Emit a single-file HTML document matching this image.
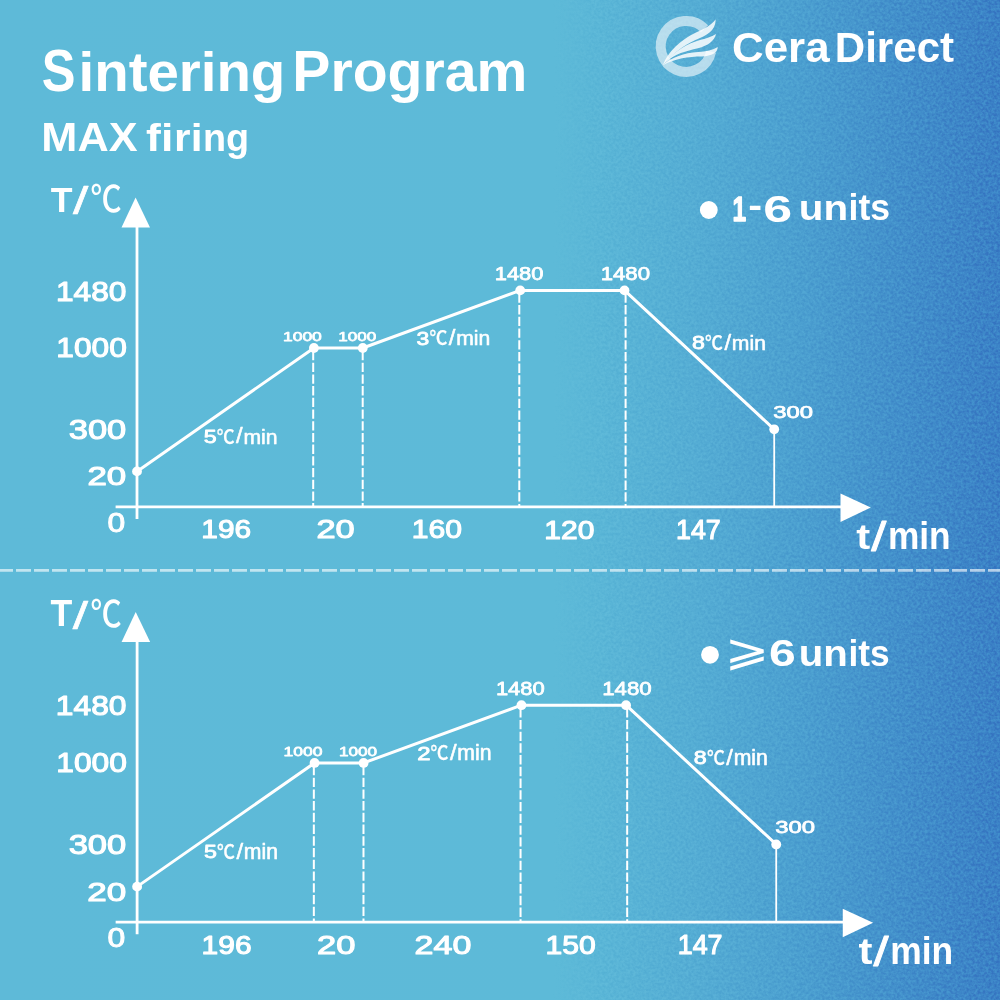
<!DOCTYPE html>
<html lang="en">
<head>
<meta charset="utf-8">
<title>Sintering Program - MAX firing</title>
<style>
html,body{margin:0;padding:0;width:1000px;height:1000px;overflow:hidden;background:#5ebad8}
svg{display:block}
text{fill:#fff;white-space:pre;font-family:"Liberation Sans","DejaVu Sans",sans-serif;font-weight:bold}
.n{font-weight:normal}
.c{font-family:"Liberation Sans","Noto Sans CJK SC",sans-serif;font-weight:500}
.k{stroke:#fff;stroke-linejoin:round}
</style>
</head>
<body>
<svg width="1000" height="1000" viewBox="0 0 1000 1000">
<defs>
<linearGradient id="bg" x1="0" y1="0" x2="1" y2="0">
<stop offset="0" stop-color="#5ebad8"/>
<stop offset="0.555" stop-color="#5dbad8"/>
<stop offset="0.60" stop-color="#5ab6d7"/>
<stop offset="0.70" stop-color="#54acd4"/>
<stop offset="0.80" stop-color="#4b9fd0"/>
<stop offset="0.90" stop-color="#428fcb"/>
<stop offset="1" stop-color="#3a80c6"/>
</linearGradient>
<linearGradient id="nm" x1="0" y1="0" x2="1" y2="0">
<stop offset="0.55" stop-color="#000"/>
<stop offset="0.6" stop-color="#888"/>
<stop offset="1" stop-color="#fff"/>
</linearGradient>
<mask id="nmask"><rect width="1000" height="1000" fill="url(#nm)"/></mask>
<filter id="noise" x="0" y="0" width="100%" height="100%" color-interpolation-filters="sRGB">
<feTurbulence type="fractalNoise" baseFrequency="0.36" numOctaves="2" seed="7"/>
<feColorMatrix type="matrix" values="2.2 0 0 0 -0.6  2.2 0 0 0 -0.6  2.2 0 0 0 -0.6  0 0 0 0 1"/>
</filter>
</defs>
<rect width="1000" height="1000" fill="url(#bg)"/>
<rect x="480" width="520" height="1000" filter="url(#noise)" mask="url(#nmask)" opacity="0.11" style="mix-blend-mode:overlay"/>
<line x1="-2" y1="570.4" x2="1000" y2="570.4" stroke="#fff" stroke-opacity="0.62" stroke-width="2.8" stroke-dasharray="15 3"/>
<!-- logo -->
<g>
<path d="M711.14,51.7 A25.5,25.5 0 1 1 704.54,28.69" fill="none" stroke="#fff" stroke-opacity="0.58" stroke-width="10"/>
<g fill="#fff" fill-opacity="0.84">
<path d="M662.8,65.2 C668,52 680,40 696,32.5 C705,28.5 712,24.5 715.6,19.2 C716,27 711,33.5 700,38 C688,43 676,50 662.8,65.2 Z"/>
<path d="M666,62 C674,51 688,43.5 700,40 C707,38.2 712,36.5 716,34 C714.5,41 708,45.5 698,48.3 C686,51 675,54 666,62 Z"/>
<path d="M662.8,65.2 C672,57 684,53 698,52 C706,51.5 713,50 717.8,47 C717.5,53 712,56 702,56.4 C688,56.5 676,58 662.8,65.2 Z"/>
</g>
</g>
<circle cx="708.8" cy="210" r="8.9" fill="#fff"/>
<circle cx="710" cy="654.8" r="8.9" fill="#fff"/>
<text><tspan x="41.84" y="90.71" font-size="58.87" textLength="33.74" lengthAdjust="spacingAndGlyphs">S</tspan><tspan x="78.53" y="90.6" font-size="55.45" textLength="206.78" lengthAdjust="spacingAndGlyphs">intering</tspan> <tspan x="292.28" y="90.5" font-size="57.84" textLength="235.1" lengthAdjust="spacingAndGlyphs">Program</tspan></text>
<text><tspan x="41.39" y="150.6" font-size="40.0" textLength="96.22" lengthAdjust="spacingAndGlyphs">MAX</tspan> <tspan x="146.13" y="150.6" font-size="39.45" textLength="27.19" lengthAdjust="spacingAndGlyphs">fi</tspan><tspan x="174.14" y="150.6" font-size="38.62" textLength="28.34" lengthAdjust="spacingAndGlyphs">ri</tspan><tspan x="203.05" y="150.6" font-size="39.63" textLength="46.14" lengthAdjust="spacingAndGlyphs">ng</tspan></text>
<text><tspan x="732.04" y="62" font-size="43.14" textLength="97.57" lengthAdjust="spacingAndGlyphs">Cera</tspan><tspan x="834.76" y="62" font-size="41.66" textLength="119.37" lengthAdjust="spacingAndGlyphs">Direct</tspan></text>
<text><tspan class="k" x="732.53" y="221.1" font-size="35.65" textLength="13.61" lengthAdjust="spacingAndGlyphs" stroke-width="1.4">1</tspan><tspan x="748.15" y="217.13" font-size="34.17" textLength="13.83" lengthAdjust="spacingAndGlyphs">-</tspan><tspan x="763.38" y="221.83" font-size="37.46" textLength="28.9" lengthAdjust="spacingAndGlyphs">6</tspan> <tspan x="798.78" y="220.4" font-size="35.93" textLength="49.27" lengthAdjust="spacingAndGlyphs">un</tspan><tspan x="848.59" y="220.4" font-size="37.52" textLength="41.5" lengthAdjust="spacingAndGlyphs">its</tspan></text>
<text><tspan class="n" x="724.8" y="664.91" font-size="43.94" textLength="44.69" lengthAdjust="spacingAndGlyphs">⩾</tspan><tspan x="769.02" y="666.43" font-size="37.18" textLength="26.72" lengthAdjust="spacingAndGlyphs">6</tspan> <tspan x="798.79" y="665.6" font-size="36.3" textLength="49.05" lengthAdjust="spacingAndGlyphs">un</tspan><tspan x="848.41" y="665.6" font-size="37.79" textLength="41.17" lengthAdjust="spacingAndGlyphs">its</tspan></text>
<g transform="matrix(1 0 0 1 0 0)">
<g stroke="#fff" stroke-width="2.8" fill="none">
<line x1="137" y1="225" x2="137" y2="518.9"/>
<line x1="115.6" y1="506.9" x2="842" y2="506.9"/>
</g>
<polygon points="135.6,197.5 121.5,227.5 150,227.5" fill="#fff"/>
<polygon points="870.8,507.5 840.5,493.5 840.5,522" fill="#fff"/>
<g stroke="#fff" stroke-width="2" stroke-dasharray="9.3 2.4" fill="none">
<line x1="313.2" y1="351" x2="313.2" y2="506"/>
<line x1="362.7" y1="351" x2="362.7" y2="506"/>
<line x1="519.3" y1="293.4" x2="519.3" y2="506"/>
<line x1="625.6" y1="293.4" x2="625.6" y2="506"/>
</g>
<line x1="774.2" y1="429.3" x2="774.2" y2="506" stroke="#fff" stroke-width="1.8"/>
<path d="M137,471.4 L313.9,348 L362.8,348 L520.2,290.4 L624.5,290.4 L774.2,429.3" stroke="#fff" stroke-width="3" fill="none" stroke-linejoin="round"/>
<circle cx="137" cy="471.4" r="4.9" fill="#fff"/>
<circle cx="313.9" cy="348" r="4.9" fill="#fff"/>
<circle cx="362.8" cy="348" r="4.9" fill="#fff"/>
<circle cx="520.2" cy="290.4" r="4.9" fill="#fff"/>
<circle cx="624.5" cy="290.4" r="4.9" fill="#fff"/>
<circle cx="774.2" cy="429.3" r="4.9" fill="#fff"/>
<text><tspan x="50.64" y="211.8" font-size="35.97" textLength="21.76" lengthAdjust="spacingAndGlyphs">T</tspan><tspan class="n k" x="72.9" y="214.11" font-size="39.19" textLength="15.28" lengthAdjust="spacingAndGlyphs" stroke-width="0.6">/</tspan><tspan class="c" x="90.51" y="212.06" font-size="36.2" textLength="31.12" lengthAdjust="spacingAndGlyphs">℃</tspan></text>
<text><tspan class="n k" x="55.98" y="300.68" font-size="27.41" textLength="70.42" lengthAdjust="spacingAndGlyphs" stroke-width="1.1">1480</tspan></text>
<text><tspan class="n k" x="56.38" y="357.38" font-size="27.18" textLength="70.42" lengthAdjust="spacingAndGlyphs" stroke-width="1.1">1000</tspan></text>
<text><tspan class="n k" x="68.74" y="438.58" font-size="26.9" textLength="57.45" lengthAdjust="spacingAndGlyphs" stroke-width="1.1">300</tspan></text>
<text><tspan class="n k" x="87.41" y="485.39" font-size="26.48" textLength="38.81" lengthAdjust="spacingAndGlyphs" stroke-width="1.1">20</tspan></text>
<text><tspan class="n k" x="107.59" y="531.63" font-size="27.04" textLength="17.66" lengthAdjust="spacingAndGlyphs" stroke-width="1.0">0</tspan></text>
<text><tspan class="n k" x="201.31" y="538.38" font-size="26.62" textLength="49.76" lengthAdjust="spacingAndGlyphs" stroke-width="1.1">196</tspan></text>
<text><tspan class="n k" x="316.43" y="538.39" font-size="26.34" textLength="38.26" lengthAdjust="spacingAndGlyphs" stroke-width="1.1">20</tspan></text>
<text><tspan class="n k" x="411.89" y="538.39" font-size="26.34" textLength="50.25" lengthAdjust="spacingAndGlyphs" stroke-width="1.1">160</tspan></text>
<text><tspan class="n k" x="544.3" y="538.69" font-size="26.2" textLength="50.03" lengthAdjust="spacingAndGlyphs" stroke-width="1.1">120</tspan></text>
<text><tspan class="n k" x="676.04" y="538.82" font-size="26.76" textLength="44.64" lengthAdjust="spacingAndGlyphs" stroke-width="1.1">147</tspan></text>
<text><tspan x="856.18" y="548.94" font-size="35.94" textLength="13.95" lengthAdjust="spacingAndGlyphs">t</tspan><tspan class="n k" x="871.3" y="550.8" font-size="39.73" textLength="15.08" lengthAdjust="spacingAndGlyphs" stroke-width="0.8">/</tspan><tspan x="887.91" y="549" font-size="38.62" textLength="62.74" lengthAdjust="spacingAndGlyphs">min</tspan></text>
<text><tspan class="n k" x="282.96" y="341.49" font-size="13.59" textLength="38.89" lengthAdjust="spacingAndGlyphs" stroke-width="0.75">1000</tspan></text>
<text><tspan class="n k" x="338.19" y="341.49" font-size="13.59" textLength="38.05" lengthAdjust="spacingAndGlyphs" stroke-width="0.75">1000</tspan></text>
<text><tspan class="n k" x="494.73" y="280.44" font-size="18.53" textLength="48.68" lengthAdjust="spacingAndGlyphs" stroke-width="0.75">1480</tspan></text>
<text><tspan class="n k" x="600.71" y="280.44" font-size="18.53" textLength="49.31" lengthAdjust="spacingAndGlyphs" stroke-width="0.75">1480</tspan></text>
<text><tspan class="n k" x="773.34" y="418.26" font-size="16.97" textLength="39.64" lengthAdjust="spacingAndGlyphs" stroke-width="0.75">300</tspan></text>
<text><tspan class="n k" x="203.67" y="443.12" font-size="18.29" textLength="12.88" lengthAdjust="spacingAndGlyphs" stroke-width="0.8">5</tspan><tspan class="c k" x="216.7" y="443.59" font-size="19.3" textLength="17.91" lengthAdjust="spacingAndGlyphs" stroke-width="0.25">℃</tspan><tspan class="n k" x="236.05" y="443.43" font-size="21.62" textLength="6.65" lengthAdjust="spacingAndGlyphs" stroke-width="0.5">/</tspan><tspan class="n k" x="243.43" y="443.7" font-size="21.1" textLength="34.07" lengthAdjust="spacingAndGlyphs" stroke-width="0.6">min</tspan></text>
<text><tspan class="n k" x="416.6" y="344.82" font-size="18.03" textLength="12.75" lengthAdjust="spacingAndGlyphs" stroke-width="0.8">3</tspan><tspan class="c k" x="429.5" y="345.29" font-size="19.3" textLength="17.91" lengthAdjust="spacingAndGlyphs" stroke-width="0.25">℃</tspan><tspan class="n k" x="448.85" y="345.13" font-size="21.62" textLength="6.65" lengthAdjust="spacingAndGlyphs" stroke-width="0.5">/</tspan><tspan class="n k" x="456.23" y="345.4" font-size="21.1" textLength="34.07" lengthAdjust="spacingAndGlyphs" stroke-width="0.6">min</tspan></text>
<text><tspan class="n k" x="692.07" y="349.32" font-size="17.9" textLength="12.88" lengthAdjust="spacingAndGlyphs" stroke-width="0.8">8</tspan><tspan class="c k" x="705.1" y="349.79" font-size="19.3" textLength="17.91" lengthAdjust="spacingAndGlyphs" stroke-width="0.25">℃</tspan><tspan class="n k" x="724.45" y="349.63" font-size="21.62" textLength="6.65" lengthAdjust="spacingAndGlyphs" stroke-width="0.5">/</tspan><tspan class="n k" x="731.83" y="349.9" font-size="21.1" textLength="34.07" lengthAdjust="spacingAndGlyphs" stroke-width="0.6">min</tspan></text>
</g>
<g transform="matrix(1.003 0 0 1.0025 -0.3 414.05)">
<g stroke="#fff" stroke-width="2.8" fill="none">
<line x1="137" y1="225" x2="137" y2="518.9"/>
<line x1="115.6" y1="506.9" x2="842" y2="506.9"/>
</g>
<polygon points="135.6,197.5 121.5,227.5 150,227.5" fill="#fff"/>
<polygon points="870.8,507.5 840.5,493.5 840.5,522" fill="#fff"/>
<g stroke="#fff" stroke-width="2" stroke-dasharray="9.3 2.4" fill="none">
<line x1="313.2" y1="351" x2="313.2" y2="506"/>
<line x1="362.7" y1="351" x2="362.7" y2="506"/>
<line x1="519.3" y1="293.4" x2="519.3" y2="506"/>
<line x1="625.6" y1="293.4" x2="625.6" y2="506"/>
</g>
<line x1="774.2" y1="429.3" x2="774.2" y2="506" stroke="#fff" stroke-width="1.8"/>
<path d="M137,471.4 L313.9,348 L362.8,348 L520.2,290.4 L624.5,290.4 L774.2,429.3" stroke="#fff" stroke-width="3" fill="none" stroke-linejoin="round"/>
<circle cx="137" cy="471.4" r="4.9" fill="#fff"/>
<circle cx="313.9" cy="348" r="4.9" fill="#fff"/>
<circle cx="362.8" cy="348" r="4.9" fill="#fff"/>
<circle cx="520.2" cy="290.4" r="4.9" fill="#fff"/>
<circle cx="624.5" cy="290.4" r="4.9" fill="#fff"/>
<circle cx="774.2" cy="429.3" r="4.9" fill="#fff"/>
<text><tspan x="50.64" y="211.8" font-size="35.97" textLength="21.76" lengthAdjust="spacingAndGlyphs">T</tspan><tspan class="n k" x="72.9" y="214.11" font-size="39.19" textLength="15.28" lengthAdjust="spacingAndGlyphs" stroke-width="0.6">/</tspan><tspan class="c" x="90.51" y="212.06" font-size="36.2" textLength="31.12" lengthAdjust="spacingAndGlyphs">℃</tspan></text>
<text><tspan class="n k" x="55.98" y="300.68" font-size="27.41" textLength="70.42" lengthAdjust="spacingAndGlyphs" stroke-width="1.1">1480</tspan></text>
<text><tspan class="n k" x="56.38" y="357.38" font-size="27.18" textLength="70.42" lengthAdjust="spacingAndGlyphs" stroke-width="1.1">1000</tspan></text>
<text><tspan class="n k" x="68.74" y="438.58" font-size="26.9" textLength="57.45" lengthAdjust="spacingAndGlyphs" stroke-width="1.1">300</tspan></text>
<text><tspan class="n k" x="87.41" y="485.39" font-size="26.48" textLength="38.81" lengthAdjust="spacingAndGlyphs" stroke-width="1.1">20</tspan></text>
<text><tspan class="n k" x="107.59" y="531.63" font-size="27.04" textLength="17.66" lengthAdjust="spacingAndGlyphs" stroke-width="1.0">0</tspan></text>
<text><tspan class="n k" x="201.31" y="538.38" font-size="26.62" textLength="49.76" lengthAdjust="spacingAndGlyphs" stroke-width="1.1">196</tspan></text>
<text><tspan class="n k" x="316.43" y="538.39" font-size="26.34" textLength="38.26" lengthAdjust="spacingAndGlyphs" stroke-width="1.1">20</tspan></text>
<text><tspan class="n k" x="413.66" y="538.39" font-size="26.34" textLength="56.52" lengthAdjust="spacingAndGlyphs" stroke-width="1.1">240</tspan></text>
<text><tspan class="n k" x="544.3" y="538.69" font-size="26.2" textLength="50.03" lengthAdjust="spacingAndGlyphs" stroke-width="1.1">150</tspan></text>
<text><tspan class="n k" x="676.04" y="538.82" font-size="26.76" textLength="44.64" lengthAdjust="spacingAndGlyphs" stroke-width="1.1">147</tspan></text>
<text><tspan x="856.18" y="548.94" font-size="35.94" textLength="13.95" lengthAdjust="spacingAndGlyphs">t</tspan><tspan class="n k" x="871.3" y="550.8" font-size="39.73" textLength="15.08" lengthAdjust="spacingAndGlyphs" stroke-width="0.8">/</tspan><tspan x="887.91" y="549" font-size="38.62" textLength="62.74" lengthAdjust="spacingAndGlyphs">min</tspan></text>
<text><tspan class="n k" x="282.96" y="341.49" font-size="13.59" textLength="38.89" lengthAdjust="spacingAndGlyphs" stroke-width="0.75">1000</tspan></text>
<text><tspan class="n k" x="338.19" y="341.49" font-size="13.59" textLength="38.05" lengthAdjust="spacingAndGlyphs" stroke-width="0.75">1000</tspan></text>
<text><tspan class="n k" x="494.73" y="280.44" font-size="18.53" textLength="48.68" lengthAdjust="spacingAndGlyphs" stroke-width="0.75">1480</tspan></text>
<text><tspan class="n k" x="600.71" y="280.44" font-size="18.53" textLength="49.31" lengthAdjust="spacingAndGlyphs" stroke-width="0.75">1480</tspan></text>
<text><tspan class="n k" x="773.34" y="418.26" font-size="16.97" textLength="39.64" lengthAdjust="spacingAndGlyphs" stroke-width="0.75">300</tspan></text>
<text><tspan class="n k" x="203.67" y="443.12" font-size="18.29" textLength="12.88" lengthAdjust="spacingAndGlyphs" stroke-width="0.8">5</tspan><tspan class="c k" x="216.7" y="443.59" font-size="19.3" textLength="17.91" lengthAdjust="spacingAndGlyphs" stroke-width="0.25">℃</tspan><tspan class="n k" x="236.05" y="443.43" font-size="21.62" textLength="6.65" lengthAdjust="spacingAndGlyphs" stroke-width="0.5">/</tspan><tspan class="n k" x="243.43" y="443.7" font-size="21.1" textLength="34.07" lengthAdjust="spacingAndGlyphs" stroke-width="0.6">min</tspan></text>
<text><tspan class="n k" x="416.2" y="345.0" font-size="18.29" textLength="13.3" lengthAdjust="spacingAndGlyphs" stroke-width="0.8">2</tspan><tspan class="c k" x="429.5" y="345.29" font-size="19.3" textLength="17.91" lengthAdjust="spacingAndGlyphs" stroke-width="0.25">℃</tspan><tspan class="n k" x="448.85" y="345.13" font-size="21.62" textLength="6.65" lengthAdjust="spacingAndGlyphs" stroke-width="0.5">/</tspan><tspan class="n k" x="456.23" y="345.4" font-size="21.1" textLength="34.07" lengthAdjust="spacingAndGlyphs" stroke-width="0.6">min</tspan></text>
<text><tspan class="n k" x="692.07" y="349.32" font-size="17.9" textLength="12.88" lengthAdjust="spacingAndGlyphs" stroke-width="0.8">8</tspan><tspan class="c k" x="705.1" y="349.79" font-size="19.3" textLength="17.91" lengthAdjust="spacingAndGlyphs" stroke-width="0.25">℃</tspan><tspan class="n k" x="724.45" y="349.63" font-size="21.62" textLength="6.65" lengthAdjust="spacingAndGlyphs" stroke-width="0.5">/</tspan><tspan class="n k" x="731.83" y="349.9" font-size="21.1" textLength="34.07" lengthAdjust="spacingAndGlyphs" stroke-width="0.6">min</tspan></text>
</g>
</svg>
</body>
</html>
